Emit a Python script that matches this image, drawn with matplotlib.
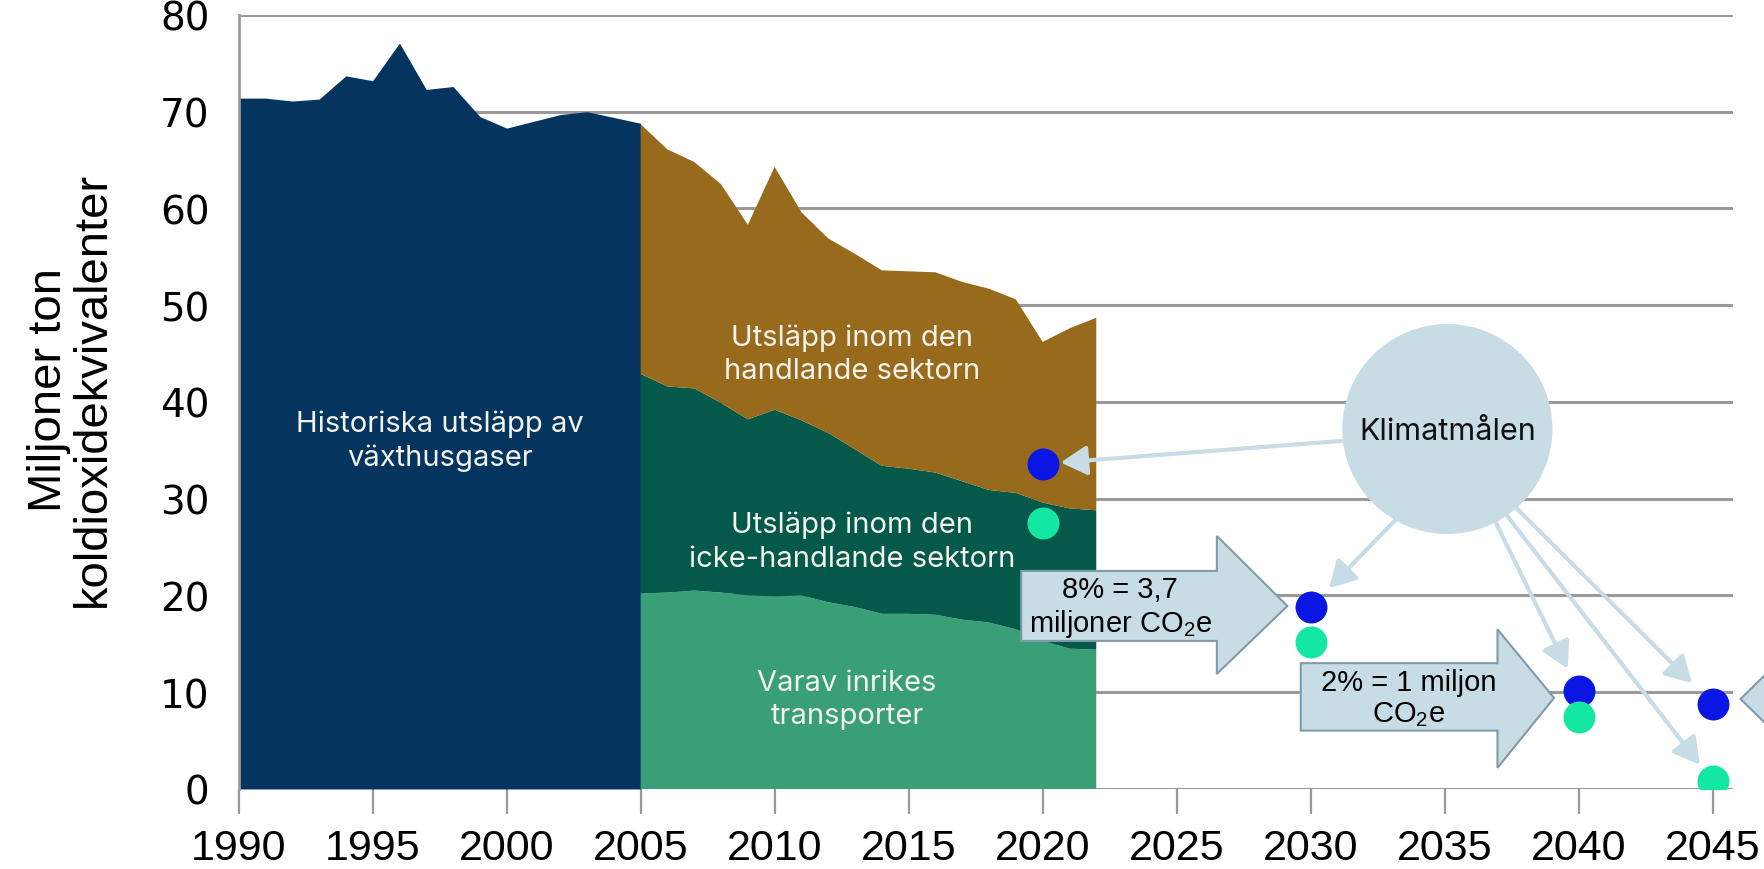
import matplotlib
matplotlib.use("Agg")
import matplotlib.pyplot as plt
from matplotlib import font_manager
from matplotlib.patches import Polygon, Ellipse

# historical total emissions, 1990-2005 (Mt CO2e)
hist_years = list(range(1990, 2006))
hist_total = [71.4, 71.4, 71.1, 71.3, 73.7, 73.2, 77.1, 72.3, 72.6, 69.5,
              68.3, 69.0, 69.7, 70.0, 69.4, 68.8]

# split by sector from 2005
sector_years = list(range(2005, 2023))
transport = [20.2, 20.3, 20.5, 20.3, 20.0, 19.9, 20.0, 19.3, 18.8, 18.1,
             18.1, 18.0, 17.5, 17.2, 16.5, 15.3, 14.5, 14.4]
non_trading_other = [22.7, 21.3, 20.9, 19.6, 18.2, 19.3, 18.1, 17.5, 16.3, 15.3,
                     15.0, 14.7, 14.3, 13.7, 14.1, 14.3, 14.5, 14.4]
trading = [25.8, 24.5, 23.4, 22.6, 20.1, 25.1, 21.5, 20.1, 20.2, 20.2,
           20.4, 20.7, 20.6, 20.8, 20.0, 16.6, 18.6, 19.9]

# climate goals (dots)
goal_years = [2020, 2030, 2040, 2045]
goal_blue = [33.6, 18.8, 10.1, 8.8]
goal_green = [27.5, 15.2, 7.4, 0.8]

area_labels = ["Historiska utsläpp av\nväxthusgaser",
               "Utsläpp inom den\nhandlande sektorn",
               "Utsläpp inom den\nicke-handlande sektorn",
               "Varav inrikes\ntransporter"]

names = {f.name for f in font_manager.fontManager.ttflist}
arial = "Liberation Sans"
label_font = "Inter" if "Inter" in names else "DejaVu Sans"
plt.rcParams["mathtext.fontset"] = "custom"
plt.rcParams["mathtext.rm"] = arial

NAVY = "#05345F"
BROWN = "#986A1B"
DKGREEN = "#05594A"
LTGREEN = "#389F77"
PALE = "#C8DCE5"
EDGE = "#7F9BAA"
GRID = "#9A9A9A"

fig = plt.figure(figsize=(17.65, 8.70), dpi=100)
ax = fig.add_axes([0.1352, 0.092, 0.8467, 0.8897])
ax.set_xlim(1990, 2045.76)
ax.set_ylim(0, 80)

ax.fill_between(hist_years, 0, hist_total, color=NAVY, lw=0)
ax.stackplot(sector_years, transport, non_trading_other, trading,
             colors=[LTGREEN, DKGREEN, BROWN], lw=0)

txt = dict(color="#F2F2EC", fontsize=21, ha="center", va="center",
           family=[label_font, "DejaVu Sans"], linespacing=1.3)
ax.text(1997.5, 36.0, area_labels[0], **txt)
ax.text(2012.9, 45.0, area_labels[1], **txt)
ax.text(2012.9, 25.6, area_labels[2], **txt)
ax.text(2012.7, 9.3, area_labels[3], **txt)

# circle with arrows to the goals
ax.add_patch(Ellipse((2035.1, 37.2), 7.84, 21.7, color=PALE, lw=0, zorder=4))
ax.text(2035.1, 37.0, "Klimatmålen", fontsize=22, ha="center", va="center",
        family=[label_font, "DejaVu Sans"], color="#111111", zorder=5)

arrow_kw = dict(arrowstyle="-|>,head_length=0.8,head_width=0.45", color=PALE,
                lw=3, mutation_scale=20)
starts = [(2031.3, 36.0), (2033.2, 27.9), (2036.75, 28.4), (2037.6, 29.25)]
gaps = [13, 19, 18, 21]
for (sx, sy), gx, gy, g in zip(starts, goal_years, goal_blue, gaps):
    ax.annotate("", xy=(gx, gy), xytext=(sx, sy),
                arrowprops=dict(shrinkA=0, shrinkB=g, **arrow_kw), zorder=3)
ax.annotate("", xy=(goal_years[3], goal_green[3]), xytext=(2037.2, 28.7),
            arrowprops=dict(shrinkA=0, shrinkB=15, **arrow_kw), zorder=3)


def block_arrow(x0, x1, x2, b0, b1, h0, h1, tip):
    pts = [(x0, b0), (x1, b0), (x1, h0), (x2, tip), (x1, h1), (x1, b1), (x0, b1)]
    return Polygon(pts, closed=True, facecolor=PALE, edgecolor=EDGE, lw=1.5,
                   zorder=4, clip_on=False)


ax.add_patch(block_arrow(2019.2, 2026.5, 2029.13, 22.53, 15.3, 26.15, 11.89, 18.91))
ax.add_patch(block_arrow(2029.63, 2036.97, 2039.08, 13.0, 6.03, 16.5, 2.18, 9.41))
ax.add_patch(Polygon([(2046.04, 9.3), (2048.5, 16.0), (2048.5, 2.6)], closed=True,
                     facecolor=PALE, edgecolor=EDGE, lw=1.5, clip_on=False, zorder=4))

box_txt = dict(fontsize=21, ha="center", va="center", family=arial,
               linespacing=1.15, zorder=5)
ax.text(2022.9, 18.8, "8% = 3,7\nmiljoner CO$_2$e", **box_txt)
ax.text(2033.65, 9.4, "2% = 1 miljon\nCO$_2$e", **box_txt)

ax.plot(goal_years, goal_blue, "o", ms=23, color="#0A17E4", mew=0, zorder=6)
ax.plot(goal_years, goal_green, "o", ms=23, color="#12E8A2", mew=0, zorder=6)

# axes styling
ax.set_axisbelow(True)
ax.yaxis.grid(True, color=GRID, lw=2.2)
for s in ["top", "right", "bottom"]:
    ax.spines[s].set_visible(False)
ax.spines["left"].set_color(GRID)
ax.spines["left"].set_linewidth(2)
ax.set_yticks(range(0, 81, 10))
ax.set_xticks(range(1990, 2046, 5))
ax.tick_params(axis="y", length=0, pad=21, labelsize=28)
ax.tick_params(axis="x", length=18, width=1.6, color=GRID, pad=10, labelsize=31)
for lab in ax.get_xticklabels():
    lab.set_family(arial)
for lab in ax.get_yticklabels():
    lab.set_family("DejaVu Sans")

fig.text(0.04, 0.552, "Miljoner ton\nkoldioxidekvivalenter", rotation=90,
         ha="center", va="center", fontsize=34, family=arial,
         multialignment="center", linespacing=1.0)

fig.savefig("out.png", dpi=100)
